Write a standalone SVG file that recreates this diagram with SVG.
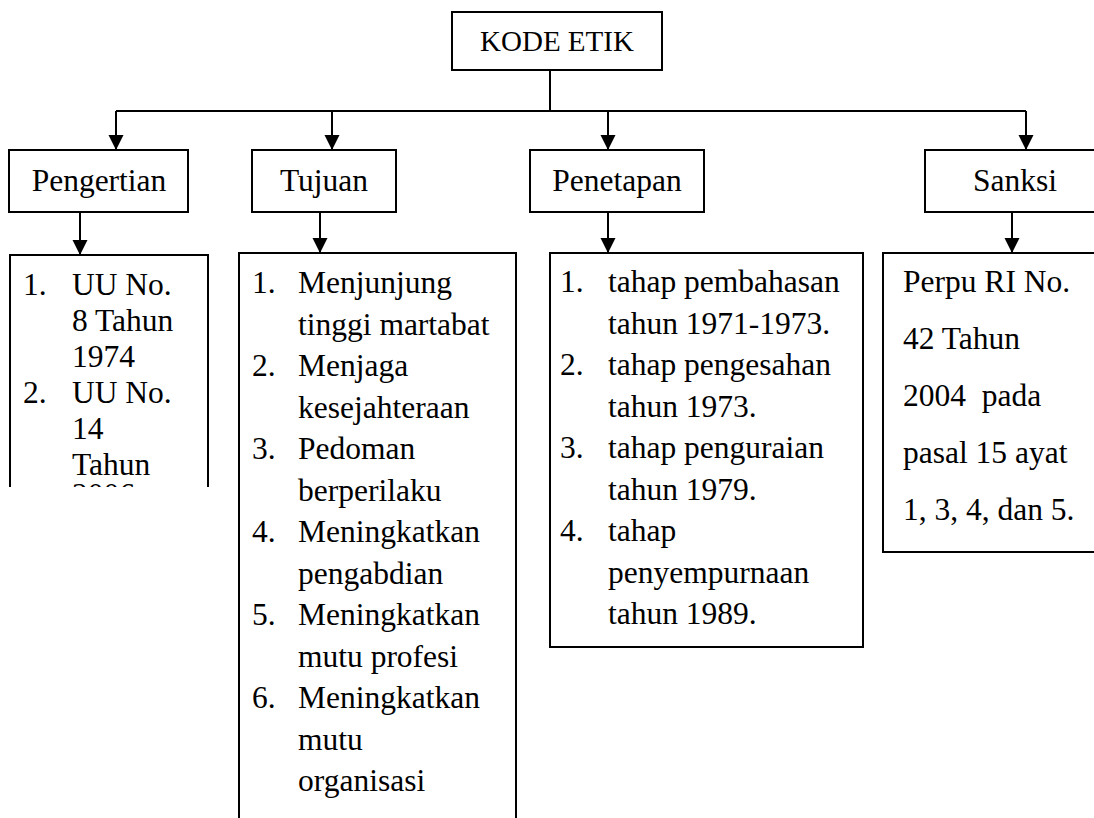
<svg xmlns="http://www.w3.org/2000/svg" width="1094" height="818" viewBox="0 0 1094 818">
<style>
.box{fill:#fff;stroke:#000;stroke-width:2}
.ln{fill:none;stroke:#000;stroke-width:2}
text{font-family:"Liberation Serif","Times New Roman",serif;font-size:31.5px;fill:#000}
.c{text-anchor:middle}
</style>
<defs>
<marker id="ah" markerUnits="userSpaceOnUse" markerWidth="15" markerHeight="16" refX="15" refY="7.5" orient="auto">
<path d="M0,0 L15,7.5 L0,15 z" fill="#000"/>
</marker>
<clipPath id="clipP"><rect x="10" y="255" width="198" height="232"/></clipPath>
</defs>
<g id="connectors">
<path class="ln" d="M550,70 V111"/>
<path class="ln" d="M116,111 H1026"/>
<path class="ln" d="M116,111 V150" marker-end="url(#ah)"/>
<path class="ln" d="M332,111 V150" marker-end="url(#ah)"/>
<path class="ln" d="M608,111 V150" marker-end="url(#ah)"/>
<path class="ln" d="M1026,111 V150" marker-end="url(#ah)"/>
<path class="ln" d="M80,212 V255" marker-end="url(#ah)"/>
<path class="ln" d="M320,212 V253" marker-end="url(#ah)"/>
<path class="ln" d="M608,212 V253" marker-end="url(#ah)"/>
<path class="ln" d="M1012,212 V253" marker-end="url(#ah)"/>
</g>
<g id="kode-etik">
<rect class="box" x="452" y="12" width="210" height="58"/>
<text class="c" x="557" y="51" style="font-size:29px">KODE ETIK</text>
</g>
<g id="pengertian">
<rect class="box" x="9" y="150" width="179" height="62"/>
<text class="c" x="99" y="191">Pengertian</text>
</g>
<g id="tujuan">
<rect class="box" x="252" y="150" width="144" height="62"/>
<text class="c" x="324" y="191">Tujuan</text>
</g>
<g id="penetapan">
<rect class="box" x="530" y="150" width="174" height="62"/>
<text class="c" x="617" y="191">Penetapan</text>
</g>
<g id="sanksi">
<rect class="box" x="925" y="150" width="180" height="62"/>
<text x="973" y="191">Sanksi</text>
</g>
<g id="pengertian-list">
<path class="ln" d="M10,487 V255 H208 V487"/>
<g clip-path="url(#clipP)">
<text x="23" y="295">1.</text><text x="72" y="295">UU No.</text>
<text x="72" y="331">8 Tahun</text>
<text x="72" y="367">1974</text>
<text x="23" y="403">2.</text><text x="72" y="403">UU No.</text>
<text x="72" y="439">14</text>
<text x="72" y="475">Tahun</text>
<text x="72" y="505">2006</text>
</g>
</g>
<g id="tujuan-list">
<path class="ln" d="M239,820 V253 H516 V820"/>
<text x="252" y="293">1.</text><text x="298" y="293">Menjunjung</text>
<text x="298" y="334.5">tinggi martabat</text>
<text x="252" y="376">2.</text><text x="298" y="376">Menjaga</text>
<text x="298" y="417.5">kesejahteraan</text>
<text x="252" y="459">3.</text><text x="298" y="459">Pedoman</text>
<text x="298" y="500.5">berperilaku</text>
<text x="252" y="542">4.</text><text x="298" y="542">Meningkatkan</text>
<text x="298" y="583.5">pengabdian</text>
<text x="252" y="625">5.</text><text x="298" y="625">Meningkatkan</text>
<text x="298" y="666.5">mutu profesi</text>
<text x="252" y="708">6.</text><text x="298" y="708">Meningkatkan</text>
<text x="298" y="749.5">mutu</text>
<text x="298" y="791">organisasi</text>
</g>
<g id="penetapan-list">
<rect class="box" x="550" y="253" width="313" height="394"/>
<text x="560" y="292">1.</text><text x="608" y="292">tahap pembahasan</text>
<text x="608" y="333.5">tahun 1971-1973.</text>
<text x="560" y="375">2.</text><text x="608" y="375">tahap pengesahan</text>
<text x="608" y="416.5">tahun 1973.</text>
<text x="560" y="458">3.</text><text x="608" y="458">tahap penguraian</text>
<text x="608" y="499.5">tahun 1979.</text>
<text x="560" y="541">4.</text><text x="608" y="541">tahap</text>
<text x="608" y="582.5">penyempurnaan</text>
<text x="608" y="624">tahun 1989.</text>
</g>
<g id="sanksi-list">
<rect class="box" x="883" y="253" width="220" height="299"/>
<text x="903" y="292">Perpu RI No.</text>
<text x="903" y="349">42 Tahun</text>
<text x="903" y="406" xml:space="preserve">2004  pada</text>
<text x="903" y="463">pasal 15 ayat</text>
<text x="903" y="520">1, 3, 4, dan 5.</text>
</g>
</svg>
